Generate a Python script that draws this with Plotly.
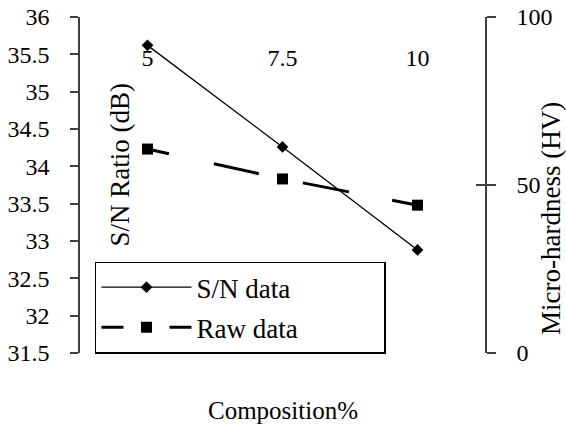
import plotly.graph_objects as go

categories = ["5", "7.5", "10"]
sn_ratio = [35.62, 34.26, 32.88]
raw_hardness = [60.7, 51.8, 44.0]

FONT = "Liberation Serif"
TF = dict(family=FONT, size=24, color="black")
PAD = "\u00a0" * 12

fig = go.Figure()
fig.add_trace(go.Scatter(
    x=categories, y=sn_ratio, name="S/N data" + PAD, mode="lines+markers",
    line=dict(color="black", width=1.3),
    marker=dict(symbol="diamond", size=9, color="black"),
    legendgroup="a", xaxis="x", yaxis="y"))
fig.add_trace(go.Scatter(
    x=categories, y=raw_hardness, name="Raw data" + PAD, mode="lines+markers",
    line=dict(color="black", width=3, dash="22px,46px,46px,45px,47px,44px,30px"),
    marker=dict(symbol="square", size=11, color="black"),
    legendgroup="b", xaxis="x", yaxis="y2"))
# helper trace to activate the crossing-tick axis
fig.add_trace(go.Scatter(x=[], y=[], xaxis="x", yaxis="y3", showlegend=False))

fig.update_layout(
    width=566, height=434,
    margin=dict(l=80, r=81, t=17, b=81, autoexpand=False),
    paper_bgcolor="white", plot_bgcolor="white",
    font=dict(family=FONT, size=24, color="black"),
    xaxis=dict(type="category", range=[-0.5, 2.5], anchor="free", position=0.93,
               side="bottom", showline=False, ticks="", showgrid=False,
               zeroline=False, tickfont=TF, automargin=False),
    xaxis2=dict(overlaying="x", side="top", range=[-0.5, 2.5], showline=True,
                linecolor="#a6a6a6", linewidth=1.5, ticks="inside", ticklen=6,
                tickcolor="#a6a6a6", tickvals=[0.5, 1.5], showticklabels=False,
                showgrid=False, zeroline=False, anchor="y", automargin=False),
    yaxis=dict(range=[31.5, 36], dtick=0.5, showline=True, linecolor="#404040",
               linewidth=1.5, ticks="outside", ticklen=8, tickcolor="#404040",
               tickwidth=1.5, showgrid=False, zeroline=False, ticklabelstandoff=16,
               tickfont=TF, automargin=False),
    yaxis2=dict(overlaying="y", side="right", range=[0, 100], dtick=50,
                showline=True, linecolor="#404040", linewidth=1.5,
                ticks="outside", ticklen=9, tickcolor="#404040", tickwidth=1.5,
                showgrid=False, zeroline=False, ticklabelstandoff=16,
                tickfont=TF, anchor="x", automargin=False),
    yaxis3=dict(overlaying="y", side="right", range=[0, 100], dtick=50,
                showline=False, ticks="inside", ticklen=9, tickcolor="#404040",
                tickwidth=1.5, showticklabels=False, showgrid=False,
                zeroline=False, anchor="x", automargin=False),
    legend=dict(orientation="v", x=0.037, y=0.272, xanchor="left", yanchor="top",
                bordercolor="black", borderwidth=1.5, bgcolor="white",
                itemwidth=90, tracegroupgap=2,
                font=dict(size=27, family=FONT, color="black")),
    showlegend=True,
    annotations=[
        dict(text="S/N Ratio (dB)", xref="paper", yref="paper", x=0.098, y=0.56,
             xanchor="center", yanchor="middle",
             textangle=-90, showarrow=False, font=dict(size=27, family=FONT)),
        dict(text="Micro-hardness (HV)", xref="paper", yref="paper", x=1.163, y=0.399,
             xanchor="center", yanchor="middle",
             textangle=-90, showarrow=False, font=dict(size=27, family=FONT)),
        dict(text="Composition%", xref="paper", yref="paper", x=0.5, y=-0.17,
             xanchor="center", yanchor="middle",
             showarrow=False, font=dict(size=25, family=FONT)),
    ],
)

fig.write_html("out.html")
